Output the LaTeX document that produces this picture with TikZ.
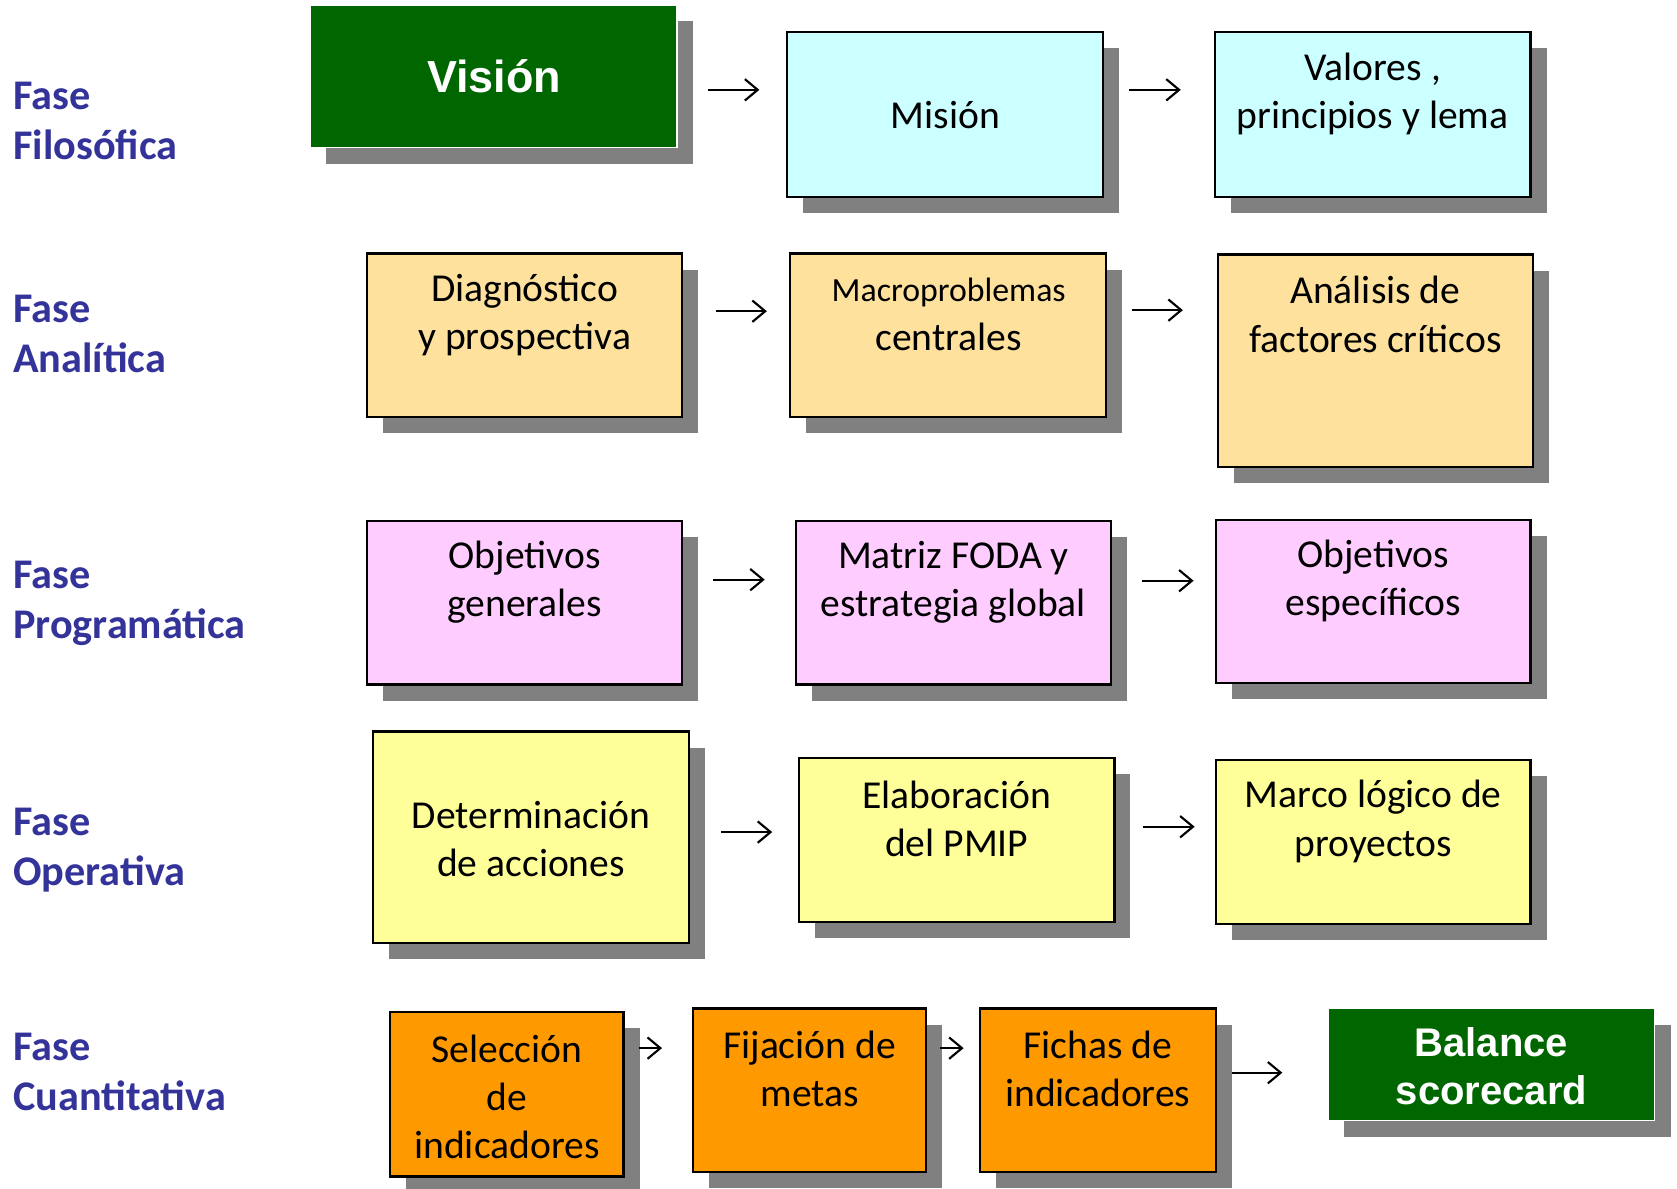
\documentclass[tikz,border=0pt]{standalone}
\usepackage{fontspec}
\setmainfont{Carlito}
\newfontfamily\arialfont{Liberation Sans}
\usetikzlibrary{arrows.meta,shadows}
\def\U{0.5pt}
\definecolor{fasecolor}{RGB}{51,51,153}
\definecolor{greencolor}{RGB}{0,102,0}
\definecolor{cyancolor}{RGB}{204,255,255}
\definecolor{peachcolor}{RGB}{253,225,157}
\definecolor{pinkcolor}{RGB}{255,204,255}
\definecolor{yellowcolor}{RGB}{255,255,153}
\definecolor{orangecolor}{RGB}{255,153,0}
\definecolor{shadecolor}{RGB}{128,128,128}
\tikzset{
  sz/.style 2 args={minimum width=#1*\U,minimum height=#2*\U},
  panel/.style={draw=black,line width=1pt,inner sep=0pt,
    general shadow={fill=shadecolor,shadow xshift=7.5pt,shadow yshift=-7.5pt}},
  greenpanel/.style={panel,draw=white,line width=0.6pt,fill=greencolor},
  txt/.style={align=center,inner sep=0pt,font=\fontsize{18.5}{22.5}\selectfont},
  bigtxt/.style={align=center,inner sep=0pt,text=white,font=\arialfont\bfseries\fontsize{18.7}{22.5}\selectfont},
  fase/.style={anchor=west,align=left,inner sep=0pt,text=fasecolor,font=\bfseries\fontsize{19.75}{23.5}\selectfont},
  arr/.style={-{Straight Barb[length=6pt,width=10pt]},line width=1pt}
}
\begin{document}
\begin{tikzpicture}[x=\U,y=-\U]
\useasboundingbox (0,0) rectangle (1568,1111);
% phases
\node[fase] (f1) at (12,113) {Fase\\Filosófica};
\node[fase] (f2) at (12,312.5) {Fase\\Analítica};
\node[fase] (f3) at (12,564) {Fase\\Programática};
\node[fase] (f4) at (12,795) {Fase\\Operativa};
\node[fase] (f5) at (12,1002) {Fase\\Cuantitativa};
% row 1
\node[greenpanel,sz={343}{133}] (vision) at (461.5,71.5) {};
\node[bigtxt,font=\arialfont\bfseries\fontsize{21}{25}\selectfont] (vision-t) at (462,71) {Visión};
\node[panel,fill=cyancolor,sz={295}{154}] (mision) at (883.5,107) {};
\node[txt] (mision-t) at (884,108) {Misión};
\node[panel,fill=cyancolor,sz={295}{154}] (valores) at (1283.5,107) {};
\node[txt] (valores-t) at (1283.5,87.5) {Valores ,\\principios y lema};
% row 2
\node[panel,fill=peachcolor,sz={295}{153}] (diag) at (490.5,313.5) {};
\node[txt] (diag-t) at (490.5,294.5) {Diagnóstico\\y prospectiva};
\node[panel,fill=peachcolor,sz={295}{153}] (macro) at (886.5,313.5) {};
\node[txt] (macro-t) at (887,294) {{\fontsize{15.8}{22.5}\selectfont Macroproblemas}\\centrales};
\node[panel,fill=peachcolor,sz={294}{199}] (analisis) at (1286,337.5) {};
\node[txt] (analisis-t) at (1286,294) {Análisis de\\factores críticos};
% row 3
\node[panel,fill=pinkcolor,sz={295}{153}] (objgen) at (490.5,563.5) {};
\node[txt] (objgen-t) at (490.5,544.5) {Objetivos\\generales};
\node[panel,fill=pinkcolor,sz={295}{153}] (foda) at (891.5,563.5) {};
\node[txt] (foda-t) at (891.5,544.5) {Matriz FODA y\\estrategia global};
\node[panel,fill=pinkcolor,sz={294}{153}] (objesp) at (1284,562.5) {};
\node[txt] (objesp-t) at (1284,543) {Objetivos\\específicos};
% row 4
\node[panel,fill=yellowcolor,sz={295}{198}] (acciones) at (496.5,783) {};
\node[txt] (acciones-t) at (496.5,784.5) {Determinación\\de acciones};
\node[panel,fill=yellowcolor,sz={295}{153}] (pmip) at (894.5,785.5) {};
\node[txt] (pmip-t) at (894.5,765.5) {Elaboración\\del PMIP};
\node[panel,fill=yellowcolor,sz={294}{153}] (marco) at (1284,787.5) {};
\node[txt] (marco-t) at (1284,768) {Marco lógico de\\proyectos};
% row 5
\node[panel,fill=orangecolor,sz={218}{154}] (seleccion) at (474,1023) {};
\node[txt] (seleccion-t) at (474,1025.5) {Selección\\de\\indicadores};
\node[panel,fill=orangecolor,sz={218}{153}] (metas) at (757,1019.5) {};
\node[txt] (metas-t) at (757,999.5) {Fijación de\\metas};
\node[panel,fill=orangecolor,sz={221}{153}] (fichas) at (1026.5,1019.5) {};
\node[txt] (fichas-t) at (1026.5,999.5) {Fichas de\\indicadores};
\node[greenpanel,sz={305}{105}] (balance) at (1394.5,995.5) {};
\node[bigtxt] (balance-t) at (1394.5,997) {Balance\\scorecard};
% arrows
\foreach \n/\xa/\xb/\y in {a1/662/710/84, a2/1056/1104/84,
    b1/669/717/291, b2/1058/1106/290,
    c1/667/715/542, c2/1068/1116/543,
    d1/674/722/778, d2/1069/1117/773,
    e1/597/619/980, e2/879/901/980, e3/1152/1199/1003}{
  \coordinate (\n s) at (\xa,\y);
  \coordinate (\n e) at (\xb,\y);
  \draw[arr] (\n s) -- (\n e);
}
\end{tikzpicture}
\end{document}
